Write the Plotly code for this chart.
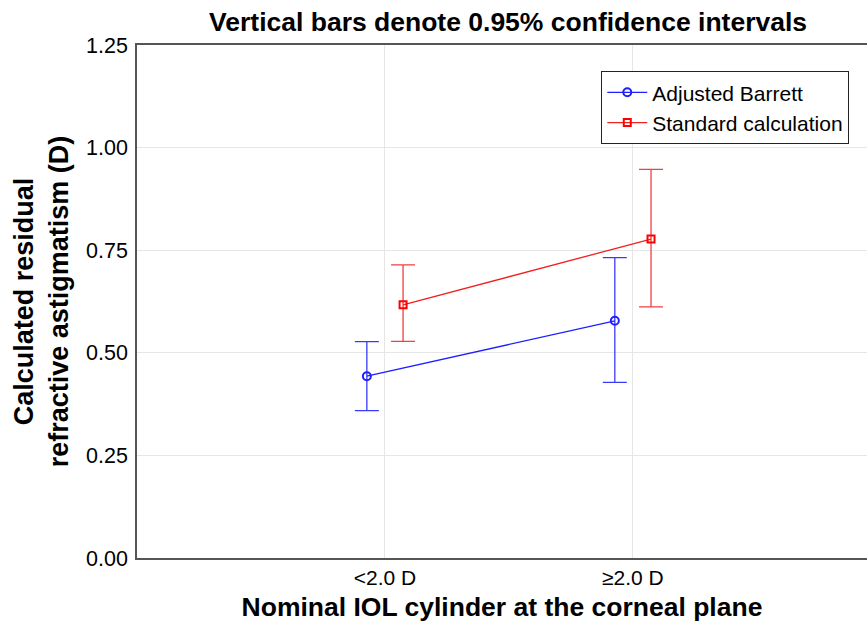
import plotly.graph_objects as go

categories = ["<2.0 D", "≥2.0 D"]
barrett_mean = [0.443, 0.578]
barrett_upper = [0.527, 0.732]
barrett_lower = [0.359, 0.428]
standard_mean = [0.617, 0.777]
standard_upper = [0.714, 0.947]
standard_lower = [0.528, 0.612]

offset = 0.073
xpos = list(range(len(categories)))

fig = go.Figure()
fig.add_trace(go.Scatter(
    x=[p - offset for p in xpos], y=barrett_mean, name="Adjusted Barrett",
    mode="lines+markers",
    line=dict(color="#1f1fff", width=1.3),
    marker=dict(symbol="circle-open", size=8, color="#1f1fff", line=dict(width=2)),
    error_y=dict(type="data", symmetric=False,
                 array=[u - m for u, m in zip(barrett_upper, barrett_mean)],
                 arrayminus=[m - l for m, l in zip(barrett_mean, barrett_lower)],
                 color="#3a3aff", thickness=1.3, width=12),
))
fig.add_trace(go.Scatter(
    x=[p + offset for p in xpos], y=standard_mean, name="Standard calculation",
    mode="lines+markers",
    line=dict(color="#f02020", width=1.3),
    marker=dict(symbol="square-open", size=7, color="#ff0000", line=dict(width=2)),
    error_y=dict(type="data", symmetric=False,
                 array=[u - m for u, m in zip(standard_upper, standard_mean)],
                 arrayminus=[m - l for m, l in zip(standard_mean, standard_lower)],
                 color="#f04040", thickness=1.3, width=12),
))

fig.update_layout(
    width=867, height=624,
    margin=dict(l=137, r=0, t=45, b=66),
    paper_bgcolor="white", plot_bgcolor="white",
    font=dict(family="Liberation Sans, Arial, sans-serif", color="black", size=21),
    title=dict(text="<b>Vertical bars denote 0.95% confidence intervals</b>",
               x=0.586, xanchor="center", y=0.965, yanchor="middle",
               font=dict(size=26.5)),
    showlegend=True,
    legend=dict(x=0.636, y=0.949, xanchor="left", yanchor="top",
                bordercolor="#222222", borderwidth=1, bgcolor="white",
                font=dict(size=21), tracegroupgap=0, itemwidth=40),
    xaxis=dict(
        range=[-1, 1.944], tickvals=xpos, ticktext=categories,
        showgrid=True, gridcolor="#e6e6e6", gridwidth=1,
        showline=True, linecolor="#555555", linewidth=1.5, mirror=True,
        ticks="", zeroline=False,
        title=dict(text="<b>Nominal IOL cylinder at the corneal plane</b>",
                   font=dict(size=26.5), standoff=9),
        tickfont=dict(size=21),
    ),
    yaxis=dict(
        range=[0, 1.25], tickvals=[0, 0.25, 0.5, 0.75, 1.0, 1.25],
        ticktext=["0.00", "0.25", "0.50", "0.75", "1.00", "1.25"],
        showgrid=True, gridcolor="#e6e6e6", gridwidth=1,
        showline=True, linecolor="#555555", linewidth=1.5,
        ticks="", zeroline=False, ticklabelstandoff=3,
        title=dict(text="<b>Calculated residual<br>refractive astigmatism (D)</b>",
                   font=dict(size=27), standoff=10),
        tickfont=dict(size=21.5),
    ),
)

fig.write_html(
    "out.html",
    config={"displayModeBar": False},
    post_script="document.body.style.margin='0';document.body.style.overflow='hidden';",
)
